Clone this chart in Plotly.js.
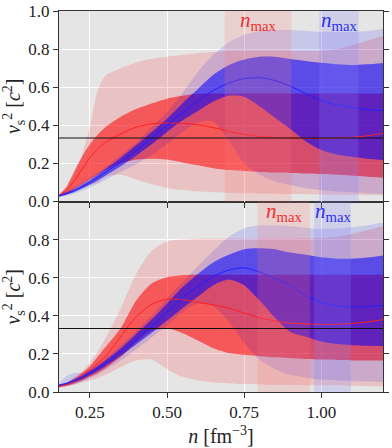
<!DOCTYPE html>
<html>
<head>
<meta charset="utf-8">
<script src="https://cdn.plot.ly/plotly-3.0.1.min.js"></script>
<style>
  html, body { margin: 0; padding: 0; background: #fff; }
  #graph { width: 392px; height: 448px; }
</style>
</head>
<body>
<div id="graph"></div>
<script>
// density grid, fm^-3
const nGrid = [0.15, 0.175, 0.2, 0.225, 0.25, 0.275, 0.3, 0.35, 0.4, 0.45, 0.5, 0.55, 0.6,
               0.65, 0.7, 0.75, 0.8, 0.85, 0.9, 0.95, 1.0, 1.05, 1.1, 1.15, 1.2];

// ---- upper panel ----
const topRedOuterHi = [0.03, 0.07, 0.14, 0.25, 0.39, 0.58, 0.66, 0.70, 0.73, 0.75, 0.76, 0.77, 0.78,
                       0.785, 0.79, 0.79, 0.79, 0.79, 0.79, 0.79, 0.79, 0.80, 0.82, 0.845, 0.87];
const topRedOuterLo = [0.025, 0.04, 0.055, 0.07, 0.085, 0.1, 0.13, 0.14, 0.115, 0.09, 0.07, 0.06, 0.052,
                       0.048, 0.045, 0.043, 0.042, 0.04, 0.039, 0.038, 0.037, 0.036, 0.035, 0.034, 0.033];
const topRedInnerHi = [0.035, 0.08, 0.16, 0.235, 0.3, 0.35, 0.39, 0.445, 0.485, 0.515, 0.54, 0.555, 0.565,
                       0.567, 0.567, 0.567, 0.567, 0.567, 0.567, 0.567, 0.567, 0.567, 0.567, 0.567, 0.567];
const topRedInnerLo = [0.028, 0.04, 0.065, 0.09, 0.115, 0.14, 0.165, 0.2, 0.22, 0.225, 0.22, 0.205, 0.19,
                       0.175, 0.165, 0.16, 0.155, 0.152, 0.15, 0.147, 0.144, 0.14, 0.135, 0.13, 0.125];
const topRedMed = [0.03, 0.06, 0.11, 0.17, 0.23, 0.275, 0.31, 0.355, 0.39, 0.408, 0.412, 0.41, 0.403,
                   0.388, 0.368, 0.352, 0.342, 0.336, 0.333, 0.331, 0.331, 0.333, 0.337, 0.345, 0.358];
const topBlueOuterHi = [0.04, 0.055, 0.075, 0.1, 0.125, 0.15, 0.18, 0.245, 0.31, 0.39, 0.47, 0.57, 0.68,
                        0.77, 0.835, 0.875, 0.895, 0.9, 0.9, 0.895, 0.89, 0.89, 0.89, 0.895, 0.905];
const topBlueOuterLo = [0.02, 0.03, 0.042, 0.057, 0.073, 0.092, 0.113, 0.155, 0.195, 0.245, 0.3, 0.365, 0.415,
                        0.42, 0.32, 0.2, 0.14, 0.105, 0.085, 0.07, 0.06, 0.052, 0.047, 0.043, 0.04];
const topBlueInnerHi = [0.035, 0.048, 0.065, 0.088, 0.112, 0.14, 0.17, 0.23, 0.295, 0.365, 0.435, 0.515, 0.59,
                        0.665, 0.715, 0.745, 0.76, 0.76, 0.748, 0.738, 0.728, 0.72, 0.716, 0.72, 0.727];
const topBlueInnerLo = [0.026, 0.036, 0.05, 0.068, 0.088, 0.11, 0.135, 0.185, 0.24, 0.3, 0.365, 0.425, 0.475,
                        0.525, 0.555, 0.55, 0.5, 0.44, 0.38, 0.315, 0.27, 0.247, 0.235, 0.225, 0.218];
const topBlueMed = [0.03, 0.042, 0.057, 0.078, 0.1, 0.125, 0.152, 0.207, 0.268, 0.333, 0.4, 0.465, 0.528,
                    0.583, 0.622, 0.645, 0.65, 0.635, 0.605, 0.567, 0.53, 0.507, 0.495, 0.482, 0.477];

// ---- lower panel ----
const botRedOuterHi = [0.03, 0.05, 0.08, 0.11, 0.155, 0.21, 0.28, 0.44, 0.62, 0.74, 0.79, 0.8, 0.805,
                       0.806, 0.806, 0.805, 0.805, 0.805, 0.805, 0.806, 0.808, 0.815, 0.83, 0.85, 0.87];
const botRedOuterLo = [0.022, 0.03, 0.04, 0.05, 0.06, 0.072, 0.09, 0.13, 0.165, 0.17, 0.12, 0.08, 0.06,
                       0.05, 0.045, 0.042, 0.04, 0.038, 0.037, 0.036, 0.035, 0.034, 0.033, 0.032, 0.03];
const botRedInnerHi = [0.03, 0.045, 0.07, 0.1, 0.135, 0.185, 0.235, 0.335, 0.48, 0.57, 0.603, 0.613, 0.615,
                       0.615, 0.615, 0.615, 0.615, 0.615, 0.615, 0.615, 0.615, 0.615, 0.615, 0.615, 0.615];
const botRedInnerLo = [0.025, 0.033, 0.045, 0.06, 0.08, 0.1, 0.125, 0.185, 0.26, 0.32, 0.335, 0.31, 0.27,
                       0.23, 0.205, 0.195, 0.188, 0.182, 0.177, 0.173, 0.17, 0.168, 0.166, 0.165, 0.165];
const botRedMed = [0.03, 0.04, 0.058, 0.085, 0.115, 0.15, 0.185, 0.29, 0.395, 0.46, 0.487, 0.485, 0.47,
                   0.458, 0.44, 0.415, 0.39, 0.373, 0.362, 0.357, 0.355, 0.356, 0.36, 0.368, 0.38];
const botBlueOuterHi = [0.045, 0.085, 0.1, 0.1, 0.12, 0.145, 0.175, 0.245, 0.32, 0.4, 0.49, 0.575, 0.66,
                        0.74, 0.815, 0.86, 0.875, 0.875, 0.87, 0.862, 0.855, 0.858, 0.865, 0.875, 0.89];
const botBlueOuterLo = [0.025, 0.03, 0.04, 0.055, 0.072, 0.09, 0.115, 0.165, 0.225, 0.285, 0.35, 0.42, 0.465,
                        0.45, 0.37, 0.26, 0.17, 0.12, 0.09, 0.075, 0.065, 0.06, 0.057, 0.055, 0.053];
const botBlueInnerHi = [0.04, 0.05, 0.068, 0.087, 0.11, 0.135, 0.165, 0.23, 0.305, 0.38, 0.465, 0.55, 0.62,
                        0.68, 0.72, 0.75, 0.755, 0.75, 0.732, 0.72, 0.707, 0.7, 0.7, 0.706, 0.717];
const botBlueInnerLo = [0.03, 0.038, 0.052, 0.068, 0.088, 0.11, 0.135, 0.19, 0.25, 0.31, 0.375, 0.44, 0.5,
                        0.56, 0.59, 0.56, 0.48, 0.39, 0.315, 0.29, 0.265, 0.252, 0.246, 0.243, 0.242];
const botBlueMed = [0.035, 0.045, 0.06, 0.078, 0.1, 0.123, 0.15, 0.21, 0.278, 0.345, 0.42, 0.495, 0.555,
                    0.607, 0.64, 0.652, 0.63, 0.595, 0.56, 0.505, 0.47, 0.452, 0.447, 0.448, 0.455];

// n_max ranges [from, to]
const topNmaxRed = [0.687, 0.903];
const topNmaxBlue = [0.993, 1.121];
const botNmaxRed = [0.793, 0.963];
const botNmaxBlue = [0.977, 1.096];

const conformal = 1 / 3;
const yTicks = [0, 0.2, 0.4, 0.6, 0.8, 1.0];
const yTicksLow = [0, 0.2, 0.4, 0.6, 0.8];
const xTicks = [0.25, 0.5, 0.75, 1.0];

const redOuter = 'rgba(255,0,0,0.15)';
const redInner = 'rgba(255,0,0,0.55)';
const blueOuter = 'rgba(0,0,255,0.13)';
const blueInner = 'rgba(0,0,255,0.55)';
const serif = '"Liberation Serif", "Times New Roman", Times, serif';

const traces = [];

function band(xa, ya, lo, hi, color) {
    traces.push({
        x: nGrid, y: lo, xaxis: xa, yaxis: ya, type: 'scatter', mode: 'lines',
        line: { width: 0, shape: 'spline', smoothing: 0.7 }, hoverinfo: 'skip', showlegend: false
    });
    traces.push({
        x: nGrid, y: hi, xaxis: xa, yaxis: ya, type: 'scatter', mode: 'lines',
        fill: 'tonexty', fillcolor: color,
        line: { width: 0, shape: 'spline', smoothing: 0.7 }, hoverinfo: 'skip', showlegend: false
    });
}

function median(xa, ya, y, color) {
    traces.push({
        x: nGrid, y: y, xaxis: xa, yaxis: ya, type: 'scatter', mode: 'lines',
        line: { width: 1, color: color, shape: 'spline', smoothing: 0.7 }, showlegend: false
    });
}

// upper panel (x2, y2)
band('x2', 'y2', topRedOuterLo, topRedOuterHi, redOuter);
band('x2', 'y2', topRedInnerLo, topRedInnerHi, redInner);
band('x2', 'y2', topBlueOuterLo, topBlueOuterHi, blueOuter);
band('x2', 'y2', topBlueInnerLo, topBlueInnerHi, blueInner);
median('x2', 'y2', topRedMed, '#ff2020');
median('x2', 'y2', topBlueMed, '#2020ff');

// lower panel (x, y)
band('x', 'y', botRedOuterLo, botRedOuterHi, redOuter);
band('x', 'y', botRedInnerLo, botRedInnerHi, redInner);
band('x', 'y', botBlueOuterLo, botBlueOuterHi, blueOuter);
band('x', 'y', botBlueInnerLo, botBlueInnerHi, blueInner);
median('x', 'y', botRedMed, '#ff2020');
median('x', 'y', botBlueMed, '#2020ff');

function nmaxShape(xa, ya, range, color) {
    return {
        type: 'rect', xref: xa, yref: ya + ' domain', x0: range[0], x1: range[1], y0: 0, y1: 1,
        fillcolor: color, line: { width: 0 }, layer: 'above'
    };
}
function hline(xa, ya) {
    return {
        type: 'line', xref: xa + ' domain', yref: ya, x0: 0, x1: 1, y0: conformal, y1: conformal,
        line: { color: '#111', width: 1 }, layer: 'above'
    };
}
function nmaxLabel(xa, ya, range, color) {
    return {
        xref: xa, yref: ya + ' domain', x: (range[0] + range[1]) / 2, y: 1, yanchor: 'top', yshift: 5,
        text: '<i>n</i><sub>max</sub>', showarrow: false,
        font: { family: serif, size: 21, color: color }
    };
}

const tickFont = { family: serif, size: 17, color: '#222' };
const titleFont = { family: serif, size: 20, color: '#222' };
const axisBase = {
    range: [0.15, 1.2], tickvals: xTicks, showgrid: true, gridcolor: '#ffffff', gridwidth: 1,
    zeroline: false, showline: true, linecolor: '#333', linewidth: 1,
    ticks: 'outside', ticklen: 5, tickcolor: '#333', tickfont: tickFont
};
const yBase = {
    range: [0, 1], tickformat: '.1f',
    showgrid: true, gridcolor: '#ffffff', zeroline: false,
    showline: true, linecolor: '#333', mirror: 'ticks',
    ticks: 'outside', ticklen: 5, tickcolor: '#333', tickfont: tickFont,
    title: { text: '<i>v</i><sub>s</sub><sup>2</sup> [<i>c</i><sup>2</sup>]', font: titleFont, standoff: 4 }
};

const layout = {
    width: 392, height: 448,
    margin: { l: 59, r: 9, t: 11, b: 56 },
    paper_bgcolor: '#ffffff', plot_bgcolor: '#e5e5e5',
    showlegend: false,
    font: { family: serif },
    xaxis: Object.assign({}, axisBase, {
        anchor: 'y', mirror: 'ticks', tickformat: '.2f',
        title: { text: '<i>n</i> [fm<sup>−3</sup>]', font: titleFont, standoff: 7 }
    }),
    xaxis2: Object.assign({}, axisBase, {
        anchor: 'y2', matches: 'x', mirror: true, showticklabels: false
    }),
    yaxis: Object.assign({}, yBase, { domain: [0, 0.5], tickvals: yTicksLow }),
    yaxis2: Object.assign({}, yBase, { domain: [0.5, 1], tickvals: yTicks }),
    shapes: [
        nmaxShape('x2', 'y2', topNmaxRed, 'rgba(255,120,120,0.2)'),
        nmaxShape('x2', 'y2', topNmaxBlue, 'rgba(130,130,255,0.22)'),
        nmaxShape('x', 'y', botNmaxRed, 'rgba(255,120,120,0.2)'),
        nmaxShape('x', 'y', botNmaxBlue, 'rgba(130,130,255,0.22)'),
        hline('x2', 'y2'),
        hline('x', 'y')
    ],
    annotations: [
        nmaxLabel('x2', 'y2', topNmaxRed, '#f03030'),
        nmaxLabel('x2', 'y2', topNmaxBlue, '#3030f0'),
        nmaxLabel('x', 'y', botNmaxRed, '#f03030'),
        nmaxLabel('x', 'y', botNmaxBlue, '#3030f0')
    ]
};

Plotly.newPlot('graph', traces, layout, { staticPlot: true });
</script>
</body>
</html>
